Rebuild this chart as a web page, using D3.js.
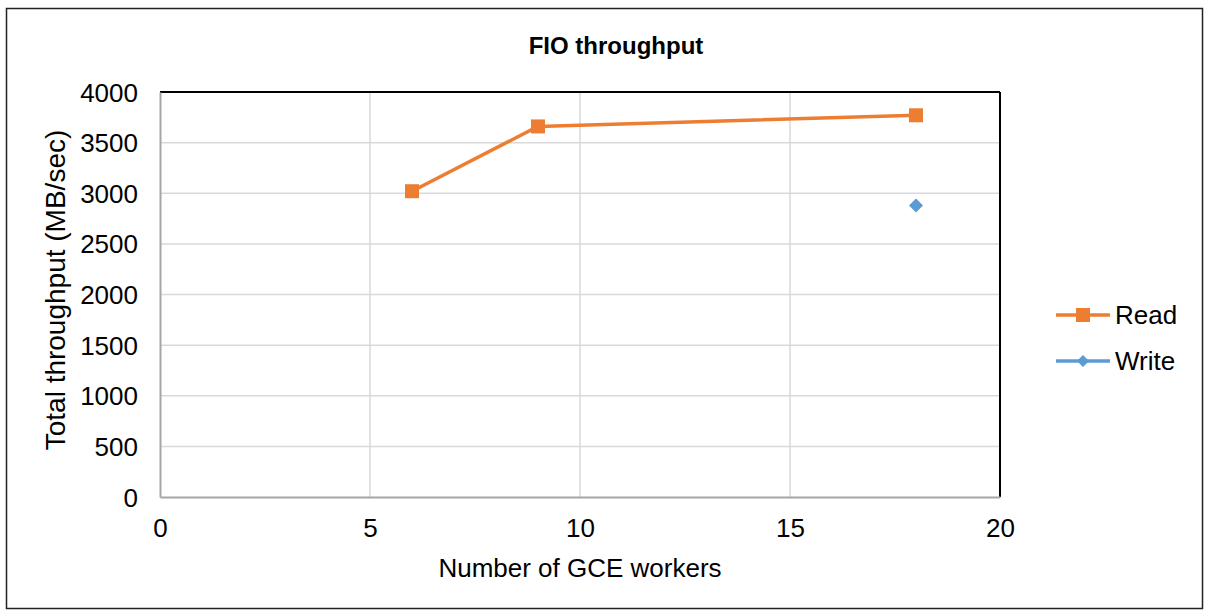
<!DOCTYPE html>
<html>
<head>
<meta charset="utf-8">
<script src="https://cdn.jsdelivr.net/npm/d3@7"></script>
<style>
  body { margin: 0; background: #fff; }
  text { font-family: "Liberation Sans", Arial, sans-serif; fill: #000; }
</style>
</head>
<body>
<div id="chart"></div>
<script>
// data
var readX = [6, 9, 18];
var readY = [3020, 3660, 3770];
var writeX = [18];
var writeY = [2880];
var xTicks = [0, 5, 10, 15, 20];
var yTicks = [0, 500, 1000, 1500, 2000, 2500, 3000, 3500, 4000];
var seriesNames = ["Read", "Write"];
var seriesColors = ["#ED7D31", "#5B9BD5"];

var W = 1205, H = 612;
var margin = {top: 92, right: 205, bottom: 115, left: 160},
    width = W - margin.left - margin.right,
    height = H - margin.top - margin.bottom;

var svg = d3.select("#chart")
  .append("svg")
    .attr("width", W)
    .attr("height", H);

// outer frame
svg.append("rect")
  .attr("x", 6.5).attr("y", 8.5)
  .attr("width", W - 9).attr("height", H - 12)
  .attr("fill", "none")
  .attr("stroke", "#222")
  .attr("stroke-width", 1.5);

var g = svg.append("g")
  .attr("transform", "translate(" + margin.left + "," + margin.top + ")");

var x = d3.scaleLinear().domain([0, 20]).range([0, width]);
var y = d3.scaleLinear().domain([0, 4000]).range([height, 0]);

// gridlines
g.selectAll(".hgrid")
  .data(yTicks.filter(function(d){ return d > 0 && d < 4000; }))
  .enter().append("line")
    .attr("x1", 0).attr("x2", width)
    .attr("y1", function(d){ return y(d); })
    .attr("y2", function(d){ return y(d); })
    .attr("stroke", "#d9d9d9").attr("stroke-width", 1.5);

g.selectAll(".vgrid")
  .data(xTicks.filter(function(d){ return d > 0 && d < 20; }))
  .enter().append("line")
    .attr("y1", 0).attr("y2", height)
    .attr("x1", function(d){ return x(d); })
    .attr("x2", function(d){ return x(d); })
    .attr("stroke", "#d9d9d9").attr("stroke-width", 1.5);

// top and right edges (black)
g.append("line").attr("x1", 0).attr("x2", width).attr("y1", 0).attr("y2", 0)
  .attr("stroke", "#000").attr("stroke-width", 2);
g.append("line").attr("x1", width).attr("x2", width).attr("y1", 0).attr("y2", height)
  .attr("stroke", "#000").attr("stroke-width", 2);

// axes
var xAxis = g.append("g")
  .attr("transform", "translate(0," + height + ")")
  .call(d3.axisBottom(x).tickValues(xTicks).tickFormat(d3.format("d")).tickSize(0).tickPadding(19));
var yAxis = g.append("g")
  .call(d3.axisLeft(y).tickValues(yTicks).tickFormat(d3.format("d")).tickSize(0).tickPadding(22));

[xAxis, yAxis].forEach(function(a){
  a.select(".domain").attr("stroke", "#a6a6a6").attr("stroke-width", 2);
  a.selectAll("text")
    .attr("font-size", "26px")
    .attr("font-family", "Liberation Sans, Arial, sans-serif")
    .attr("fill", "#000");
});
yAxis.selectAll("text").attr("dy", "0.35em");
xAxis.selectAll("text").attr("dy", "0.8em");

// read line
var readPts = readX.map(function(d, i){ return [d, readY[i]]; });
var line = d3.line()
  .x(function(d){ return x(d[0]); })
  .y(function(d){ return y(d[1]); });

g.append("path")
  .datum(readPts)
  .attr("d", line)
  .attr("fill", "none")
  .attr("stroke", seriesColors[0])
  .attr("stroke-width", 3.5)
  .attr("stroke-linejoin", "round");

g.selectAll(".readpt")
  .data(readPts)
  .enter().append("rect")
    .attr("x", function(d){ return x(d[0]) - 7; })
    .attr("y", function(d){ return y(d[1]) - 7; })
    .attr("width", 14).attr("height", 14)
    .attr("fill", seriesColors[0]);

var writePts = writeX.map(function(d, i){ return [d, writeY[i]]; });
g.selectAll(".writept")
  .data(writePts)
  .enter().append("path")
    .attr("d", d3.symbol().type(d3.symbolSquare).size(98))
    .attr("transform", function(d){ return "translate(" + x(d[0]) + "," + y(d[1]) + ") rotate(45)"; })
    .attr("fill", seriesColors[1]);

// title
svg.append("text")
  .attr("x", 616).attr("y", 54)
  .attr("text-anchor", "middle")
  .attr("font-size", "24px")
  .attr("font-weight", "bold")
  .text("FIO throughput");

// axis labels
svg.append("text")
  .attr("transform", "translate(65,290) rotate(-90)")
  .attr("text-anchor", "middle")
  .attr("font-size", "28px")
  .text("Total throughput (MB/sec)");

svg.append("text")
  .attr("x", 580).attr("y", 577)
  .attr("text-anchor", "middle")
  .attr("font-size", "26px")
  .text("Number of GCE workers");

// legend
var legend = svg.selectAll(".legend")
  .data(seriesNames)
  .enter().append("g")
    .attr("class", "legend")
    .attr("transform", function(d, i){ return "translate(1056," + (315 + i * 46) + ")"; });

legend.append("line")
  .attr("x1", 0).attr("x2", 54).attr("y1", 0).attr("y2", 0)
  .attr("stroke", function(d, i){ return seriesColors[i]; })
  .attr("stroke-width", 3.5);

legend.append("path")
  .attr("d", function(d, i){
    return d3.symbol().type(d3.symbolSquare).size(i === 0 ? 196 : 72)();
  })
  .attr("transform", function(d, i){ return "translate(27,0)" + (i === 1 ? " rotate(45)" : ""); })
  .attr("fill", function(d, i){ return seriesColors[i]; });

legend.append("text")
  .attr("x", 59).attr("y", 0).attr("dy", "0.35em")
  .attr("font-size", "26px")
  .text(function(d){ return d; });
</script>
</body>
</html>
